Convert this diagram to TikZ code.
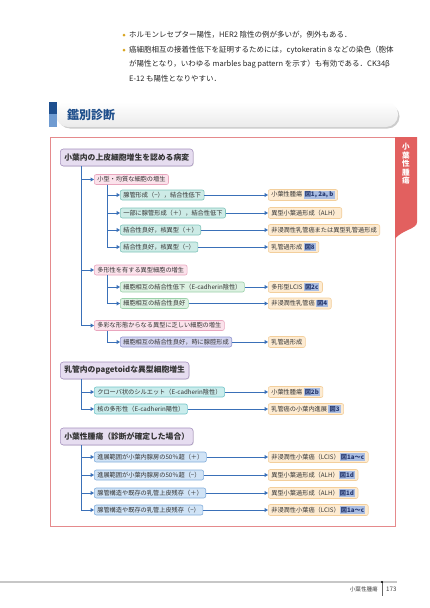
\documentclass[tikz,border=0pt]{standalone}
\usepackage{fontspec}
\setmainfont{Noto Sans CJK JP}
\usetikzlibrary{arrows.meta,calc,shadows}
\definecolor{arrblue}{HTML}{3A70B8}
\definecolor{framered}{HTML}{E58A8C}
\definecolor{tabred}{HTML}{E2605F}
\definecolor{headfill}{HTML}{E6DDF0}
\definecolor{headdraw}{HTML}{A793BF}
\definecolor{pinkfill}{HTML}{FBE2EB}
\definecolor{pinkdraw}{HTML}{E9A6BE}
\definecolor{tealfill}{HTML}{CDEBE6}
\definecolor{tealdraw}{HTML}{80C4BB}
\definecolor{greenfill}{HTML}{DDF1E2}
\definecolor{greendraw}{HTML}{9CD1AA}
\definecolor{lavfill}{HTML}{D5D6F1}
\definecolor{lavdraw}{HTML}{9296CF}
\definecolor{cyanfill}{HTML}{C9ECEC}
\definecolor{cyandraw}{HTML}{74C5C9}
\definecolor{bluefill}{HTML}{D0E3F6}
\definecolor{bluedraw}{HTML}{84AFDC}
\definecolor{resfill}{HTML}{FDEBD2}
\definecolor{resdraw}{HTML}{F3CF9C}
\definecolor{refbg}{HTML}{A9BDE3}
\definecolor{reftext}{HTML}{26386E}
\definecolor{titleblue}{HTML}{1F4F8C}
\definecolor{navyblock}{HTML}{1E4F8F}
\definecolor{lightblock}{HTML}{6F9BD1}
\definecolor{bulletgold}{HTML}{D9A521}
\newcommand\figref[1]{{\setlength{\fboxsep}{1.1pt}\colorbox{refbg}{\textcolor{reftext}{\bfseries #1}}}}
\tikzset{
  box/.style={draw, rounded corners=2pt, anchor=west, inner xsep=3pt, inner ysep=0pt,
    minimum height=10pt, font=\fontsize{6.2}{7}\selectfont, line width=0.6pt, text=black!80},
  headbox/.style={box, fill=headfill, draw=headdraw, minimum height=17pt,
    font=\fontsize{7.8}{9}\selectfont\bfseries, inner xsep=4pt, rounded corners=3pt,
    drop shadow={opacity=0.2, shadow xshift=0.7pt, shadow yshift=-0.7pt}},
  pinkbox/.style={box, fill=pinkfill, draw=pinkdraw},
  tealbox/.style={box, fill=tealfill, draw=tealdraw},
  greenbox/.style={box, fill=greenfill, draw=greendraw},
  lavbox/.style={box, fill=lavfill, draw=lavdraw},
  cyanbox/.style={box, fill=cyanfill, draw=cyandraw},
  bluebox/.style={box, fill=bluefill, draw=bluedraw},
  resbox/.style={box, fill=resfill, draw=resdraw, minimum height=11pt},
  arr/.style={draw=arrblue, line width=0.9pt, -{Triangle[length=3.4pt,width=3.8pt]}},
  bodytext/.style={anchor=west, inner sep=0pt, font=\fontsize{7.5}{9}\selectfont, text=black!85},
}
\begin{document}
\begin{tikzpicture}[x=1pt,y=-1pt]
\useasboundingbox (0,0) rectangle (430,608);
\fill[white] (0,0) rectangle (430,608);

% top paragraph
\fill[bulletgold] (124,35) circle (1.5);
\fill[bulletgold] (124,50) circle (1.5);
\node[bodytext] (t1) at (129,35) {ホルモンレセプター陽性，HER2 陰性の例が多いが，例外もある．};
\node[bodytext] (t2) at (129,50) {癌細胞相互の接着性低下を証明するためには，cytokeratin 8 などの染色（胞体};
\node[bodytext] (t3) at (129,64.5) {が陽性となり，いわゆる marbles bag pattern を示す）も有効である．CK34β};
\node[bodytext] (t4) at (129,78.5) {E-12 も陽性となりやすい．};

% heading bar
\fill[black!20, rounded corners=12pt] (58,104.5) rectangle (399.5,128.5);
\shade[top color=white, bottom color=black!8, rounded corners=12pt] (56,102) rectangle (398,127);
\fill[navyblock] (48.5,102) rectangle (57,114);
\fill[lightblock] (48.5,114) rectangle (57,127);
\node[anchor=west, inner sep=0pt, font=\fontsize{12}{14}\selectfont\bfseries, text=titleblue] (title) at (67,115) {鑑別診断};

% red frame and tab
\draw[framered, line width=1pt] (50,137.5) rectangle (395.5,526.5);
\fill[tabred] (395,137) -- (417,137) -- (417,222) .. controls (417,229) and (404,229) .. (395,238.5) -- cycle;
\node[anchor=north, inner sep=0pt, text=white, font=\fontsize{7.6}{8.6}\selectfont\bfseries, align=center] (tab) at (406,143) {小\\葉\\性\\腫\\瘍};

% ---- section 1
\node[headbox] (h1) at (60,157.5) {小葉内の上皮細胞増生を認める病変};
\node[pinkbox] (c1) at (94,179.5) {小型・均質な細胞の増生};
\node[tealbox] (g11) at (120,195) {腺管形成（−），結合性低下};
\node[tealbox] (g12) at (120,213) {一部に腺管形成（＋），結合性低下};
\node[tealbox] (g13) at (120,230) {結合性良好，核異型（＋）};
\node[tealbox] (g14) at (120,247) {結合性良好，核異型（−）};
\node[resbox] (r11) at (268,195) {小葉性腫瘍 \figref{図1, 2a, b}};
\node[resbox] (r12) at (268,213) {異型小葉過形成（ALH）};
\node[resbox] (r13) at (268,230) {非浸潤性乳管癌または異型乳管過形成};
\node[resbox] (r14) at (268,247) {乳管過形成 \figref{図8}};

\node[pinkbox] (c2) at (94,270) {多形性を有する異型細胞の増生};
\node[greenbox] (g21) at (120,287) {細胞相互の結合性低下（E-cadherin陰性）};
\node[greenbox] (g22) at (120,303.5) {細胞相互の結合性良好};
\node[resbox] (r21) at (268,287) {多形型LCIS \figref{図2c}};
\node[resbox] (r22) at (268,303.5) {非浸潤性乳管癌 \figref{図4}};

\node[pinkbox] (c3) at (94,325.5) {多彩な形態からなる異型に乏しい細胞の増生};
\node[lavbox] (g31) at (120,342) {細胞相互の結合性良好，時に腺腔形成};
\node[resbox] (r31) at (268,342) {乳管過形成};

\foreach \c in {c1,c2,c3} \draw[arr] ([xshift=21pt]h1.south west) |- (\c.west);
\foreach \g in {g11,g12,g13,g14} \draw[arr] ([xshift=13pt]c1.south west) |- (\g.west);
\foreach \g in {g21,g22} \draw[arr] ([xshift=13pt]c2.south west) |- (\g.west);
\draw[arr] ([xshift=13pt]c3.south west) |- (g31.west);
\foreach \a/\b in {g11/r11,g12/r12,g13/r13,g14/r14,g21/r21,g22/r22,g31/r31}
  \draw[arr] (\a.east) -- (\b.west);

% ---- section 2
\node[headbox] (h2) at (60,370.5) {乳管内のpagetoidな異型細胞増生};
\node[cyanbox] (d1) at (94,392) {クローバ状のシルエット（E-cadherin陰性）};
\node[cyanbox] (d2) at (94,409) {核の多形性（E-cadherin陽性）};
\node[resbox] (s1) at (268,392) {小葉性腫瘍 \figref{図2b}};
\node[resbox] (s2) at (268,409) {乳管癌の小葉内進展 \figref{図3}};
\foreach \c in {d1,d2} \draw[arr] ([xshift=21pt]h2.south west) |- (\c.west);
\draw[arr] (d1.east) -- (s1.west);
\draw[arr] (d2.east) -- (s2.west);

% ---- section 3
\node[headbox] (h3) at (60,436.5) {小葉性腫瘍（診断が確定した場合）};
\node[bluebox] (e1) at (94,457) {進展範囲が小葉内腺房の50％超（＋）};
\node[bluebox] (e2) at (94,475) {進展範囲が小葉内腺房の50％超（−）};
\node[bluebox] (e3) at (94,493) {腺管構造や既存の乳管上皮残存（＋）};
\node[bluebox] (e4) at (94,510) {腺管構造や既存の乳管上皮残存（−）};
\node[resbox] (q1) at (268,457) {非浸潤性小葉癌（LCIS）\figref{図1a〜c}};
\node[resbox] (q2) at (268,475) {異型小葉過形成（ALH）\figref{図1d}};
\node[resbox] (q3) at (268,493) {異型小葉過形成（ALH）\figref{図1d}};
\node[resbox] (q4) at (268,510) {非浸潤性小葉癌（LCIS）\figref{図1a〜c}};
\foreach \c in {e1,e2,e3,e4} \draw[arr] ([xshift=21pt]h3.south west) |- (\c.west);
\foreach \a/\b in {e1/q1,e2/q2,e3/q3,e4/q4} \draw[arr] (\a.east) -- (\b.west);

% footer
\draw[black!22, line width=1.3pt] (0,582) -- (397,582);
\draw[black!60, line width=0.4pt] (382,582) -- (382,596);
\fill[black] (382,582) circle (1.1);
\node[anchor=east, inner sep=0pt, font=\fontsize{5.6}{6}\selectfont, text=black!75] (ft) at (378,589.5) {小葉性腫瘍};
\node[anchor=west, inner sep=0pt, font=\fontsize{6.2}{7}\selectfont, text=black!75] (pg) at (386,589.5) {173};
\end{tikzpicture}
\end{document}
